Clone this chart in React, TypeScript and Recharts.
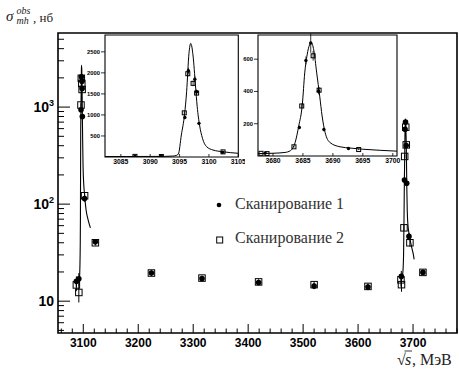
import React from "react";
import { ComposedChart, Scatter, Line, XAxis, YAxis, ErrorBar, ReferenceArea, Legend } from "recharts";

// scan 1 — filled circles (energy, MeV / cross section, nb / error)
const scan1E = [3087.4, 3091.9, 3095.9, 3096.5, 3097.6, 3097.9, 3098.3, 3102.3, 3122, 3224, 3316, 3419, 3520, 3618, 3678.7, 3684.4, 3685.5, 3686.3, 3687.6, 3688.5, 3692.6, 3718];
const scan1S = [16, 17, 940, 2050, 1850, 1550, 800, 114, 41, 19.5, 17.1, 15.6, 14.3, 14.0, 18, 177, 592, 700, 402, 164, 46.5, 19.8];
const scan1Err = [2, 2.5, 40, 70, 65, 55, 35, 8, 2.5, 1.2, 1, 1, 1, 1, 2.5, 10, 25, 60, 20, 10, 4, 1.2];

// scan 2 — open squares
const scan2E = [3087.4, 3091.9, 3095.8, 3096.4, 3097.3, 3097.9, 3102.4, 3122, 3224, 3316, 3419, 3520, 3618, 3678.0, 3679.0, 3683.5, 3684.8, 3686.7, 3687.7, 3694.3, 3718];
const scan2S = [14.7, 12.3, 1050, 1980, 1750, 1520, 122, 40, 19.5, 17.3, 15.8, 14.8, 14.2, 16.6, 14.8, 57, 310, 621, 408, 40, 19.8];
const scan2Err = [2, 2.6, 45, 70, 65, 55, 8, 2.5, 1.2, 1, 1, 1, 1, 2.5, 2.3, 4, 15, 30, 20, 3.5, 1.2];

// fit curves
const jpsiFitE = [3082.3, 3086, 3090, 3092.5, 3093.8, 3094.5, 3094.8, 3095.3, 3095.85, 3096.2, 3096.6, 3096.9, 3097.3, 3097.7, 3098.0, 3098.4, 3098.9, 3099.6, 3100.7, 3102.3, 3105, 3109, 3113];
const jpsiFitS = [11, 12, 13, 15, 22, 40, 71, 523, 1015, 1552, 2465, 2700, 2400, 1711, 1196, 760, 444, 245, 166, 126, 88, 68, 57];
const psiFitE = [3677.5, 3680, 3682, 3682.9, 3683.7, 3684.3, 3684.9, 3685.3, 3685.7, 3686.1, 3686.4, 3686.8, 3687.3, 3687.8, 3688.2, 3688.7, 3689.5, 3691.2, 3693, 3695, 3698, 3700.7, 3702];
const psiFitS = [15, 17, 22, 33, 84, 186, 320, 515, 627, 689, 703, 658, 515, 371, 248, 146, 84, 57, 49, 42, 35, 30, 27];

const mainXMajor = [3100, 3200, 3300, 3400, 3500, 3600, 3700];
const mainYMajor = [10, 100, 1000];
const mainYPow = ["", "2", "3"];
const inset1XTicks = [3085, 3090, 3095, 3100, 3105];
const inset1YTicks = [500, 1000, 1500, 2000, 2500];
const inset2XTicks = [3680, 3685, 3690, 3695, 3700];
const inset2YTicks = [200, 400, 600];
const legendLabels = ["Сканирование 1", "Сканирование 2"];

const MAIN_X: [number, number] = [3054, 3780];
const MAIN_Y: [number, number] = [4.7, 5800];
const IN1_X: [number, number] = [3082.3, 3105];
const IN1_Y: [number, number] = [0, 2900];
const IN2_X: [number, number] = [3677.5, 3700.7];
const IN2_Y: [number, number] = [0, 750];

const pts = (e: number[], s: number[], err?: number[]) => e.map((x, i) => ({ e: x, s: s[i], err: err ? err[i] : 0 }));
const scan1 = pts(scan1E, scan1S, scan1Err);
const scan2 = pts(scan2E, scan2S, scan2Err);
const jpsiFit = pts(jpsiFitE, jpsiFitS);
const psiFit = pts(psiFitE, psiFitS);
const inRange = (d: { e: number }[], r: [number, number]) => d.filter((p) => p.e >= r[0] && p.e <= r[1]);

const mainXTicks: number[] = [];
for (let v = 3060; v <= 3780; v += 20) mainXTicks.push(v);
const mainYTicks = [1, 10, 100, 1000]
  .flatMap((d) => [2, 3, 4, 5, 6, 7, 8, 9, 10].map((k) => k * d))
  .filter((v, i, a) => v >= MAIN_Y[0] && v <= MAIN_Y[1] && a.indexOf(v) === i);

const SANS = "'Liberation Sans', Arial, sans-serif";
const SERIF = "'Liberation Serif', 'Times New Roman', serif";

const dot = (r: number) => (p: any) => <circle cx={p.cx} cy={p.cy} r={r} fill="#000" />;
const box = (s: number) => (p: any) => (
  <rect x={p.cx - s / 2} y={p.cy - s / 2} width={s} height={s} fill="none" stroke="#000" strokeWidth={1} />
);

function MainXTick({ x, y, payload }: any) {
  const major = mainXMajor.includes(payload.value);
  return (
    <g>
      <line x1={x} y1={y} x2={x} y2={y - (major ? 9 : 4.5)} stroke="#000" strokeWidth={1} />
      {major && (
        <text x={x} y={y + 14} textAnchor="middle" fontSize={12} fontWeight="bold" fontFamily={SANS} fill="#000">
          {payload.value}
        </text>
      )}
    </g>
  );
}

function MainYTick({ x, y, payload }: any) {
  const idx = mainYMajor.indexOf(payload.value);
  const major = idx >= 0;
  return (
    <g>
      <line x1={x} y1={y} x2={x + (major ? 12 : 6)} y2={y} stroke="#000" strokeWidth={1} />
      {major && (
        <text x={x - 4} y={y + 5} textAnchor="end" fontSize={14} fontWeight="bold" fontFamily={SANS} fill="#000">
          10
          {mainYPow[idx] && (
            <tspan dy={-6} fontSize={9}>
              {mainYPow[idx]}
            </tspan>
          )}
        </text>
      )}
    </g>
  );
}

function InsetXTick({ x, y, payload }: any) {
  return (
    <g>
      <line x1={x} y1={y} x2={x} y2={y - 3} stroke="#000" strokeWidth={0.8} />
      <text x={x} y={y + 6.5} textAnchor="middle" fontSize={6.8} fontWeight="bold" fontFamily={SANS} fill="#000">
        {payload.value}
      </text>
    </g>
  );
}

function InsetYTick({ x, y, payload }: any) {
  return (
    <g>
      <line x1={x - 4} y1={y} x2={x} y2={y} stroke="#000" strokeWidth={0.8} />
      <text x={x - 5} y={y + 2} textAnchor="end" fontSize={5.8} fontWeight="bold" fontFamily={SANS} fill="#000">
        {payload.value}
      </text>
    </g>
  );
}

function LegendBox() {
  return (
    <svg width={160} height={60} style={{ display: "block" }}>
      <circle cx={11} cy={15} r={2.3} fill="#000" />
      <text x={27} y={19.3} fontSize={16} fontFamily={SERIF} fill="#333">
        {legendLabels[0]}
      </text>
      <rect x={8.7} y={47} width={6} height={6} fill="none" stroke="#000" strokeWidth={1} />
      <text x={27} y={53} fontSize={16} fontFamily={SERIF} fill="#333">
        {legendLabels[1]}
      </text>
    </svg>
  );
}

type InsetProps = {
  left: number; top: number; width: number; height: number;
  xDomain: [number, number]; yDomain: [number, number];
  xTicks: number[]; yTicks: number[]; fit: { e: number; s: number }[];
  marginRight: number; xAxisHeight: number;
};

function Inset({ left, top, width, height, xDomain, yDomain, xTicks, yTicks, fit, marginRight, xAxisHeight }: InsetProps) {
  return (
    <div style={{ position: "absolute", left, top, width, height }}>
      <ComposedChart width={width} height={height} margin={{ top: 5, right: marginRight, bottom: 0, left: 0 }}>
        <XAxis type="number" dataKey="e" domain={xDomain} allowDataOverflow ticks={xTicks} interval={0}
          tick={(p: any) => <InsetXTick {...p} />} tickLine={false} axisLine={false} tickSize={0} tickMargin={0} height={xAxisHeight} />
        <YAxis type="number" dataKey="s" domain={yDomain} allowDataOverflow ticks={yTicks} interval={0}
          tick={(p: any) => <InsetYTick {...p} />} tickLine={false} axisLine={false} tickSize={0} tickMargin={0} width={20} />
        <ReferenceArea x1={xDomain[0]} x2={xDomain[1]} y1={yDomain[0]} y2={yDomain[1]} fill="#fff" fillOpacity={0} stroke="#000" strokeWidth={1.1} />
        <Line data={inRange(fit, xDomain)} dataKey="s" type="monotone" dot={false} stroke="#000" strokeWidth={1} isAnimationActive={false} />
        <Scatter data={inRange(scan2, xDomain)} dataKey="s" shape={box(4)} isAnimationActive={false}>
          <ErrorBar dataKey="err" direction="y" width={0} stroke="#000" strokeWidth={0.8} />
        </Scatter>
        <Scatter data={inRange(scan1, xDomain)} dataKey="s" shape={dot(1.7)} isAnimationActive={false}>
          <ErrorBar dataKey="err" direction="y" width={0} stroke="#000" strokeWidth={0.8} />
        </Scatter>
      </ComposedChart>
    </div>
  );
}

export default function App() {
  return (
    <div style={{ position: "absolute", left: 0, top: 0, width: 459, height: 370, background: "#fff", overflow: "hidden" }}>
      <div style={{ position: "absolute", left: 0, top: 0 }}>
        <ComposedChart width={459} height={370} margin={{ top: 33, right: 2, bottom: 0, left: 0 }}>
          <XAxis type="number" dataKey="e" domain={MAIN_X} allowDataOverflow ticks={mainXTicks} interval={0}
            tick={(p: any) => <MainXTick {...p} />} tickLine={false} axisLine={false} tickSize={0} tickMargin={0} height={37} />
          <YAxis type="number" dataKey="s" scale="log" domain={MAIN_Y} allowDataOverflow ticks={mainYTicks} interval={0}
            tick={(p: any) => <MainYTick {...p} />} tickLine={false} axisLine={false} tickSize={0} tickMargin={0} width={58} />
          <ReferenceArea x1={MAIN_X[0]} x2={MAIN_X[1]} y1={MAIN_Y[0]} y2={MAIN_Y[1]} fill="#fff" fillOpacity={0} stroke="#000" strokeWidth={1.6} />
          <Line data={jpsiFit.filter((p) => p.e >= 3092.5)} dataKey="s" type="monotone" dot={false} stroke="#000" strokeWidth={1.1} isAnimationActive={false} />
          <Line data={psiFit.filter((p) => p.e >= 3678)} dataKey="s" type="monotone" dot={false} stroke="#000" strokeWidth={1.1} isAnimationActive={false} />
          <Scatter data={scan2} dataKey="s" shape={box(6.5)} isAnimationActive={false}>
            <ErrorBar dataKey="err" direction="y" width={0} stroke="#000" strokeWidth={1} />
          </Scatter>
          <Scatter data={scan1} dataKey="s" shape={dot(2.8)} isAnimationActive={false}>
            <ErrorBar dataKey="err" direction="y" width={0} stroke="#000" strokeWidth={1} />
          </Scatter>
          <Legend layout="vertical" align="center" verticalAlign="middle" content={() => <LegendBox />}
            wrapperStyle={{ left: 208, top: 190, width: 160, height: 60 }} />
        </ComposedChart>
      </div>

      <Inset left={85} top={30} width={160} height={137} xDomain={IN1_X} yDomain={IN1_Y}
        xTicks={inset1XTicks} yTicks={inset1YTicks} fit={jpsiFit} marginRight={6.7} xAxisHeight={10} />
      <Inset left={238} top={30} width={165} height={137} xDomain={IN2_X} yDomain={IN2_Y}
        xTicks={inset2XTicks} yTicks={inset2YTicks} fit={psiFit} marginRight={6} xAxisHeight={11} />

      <svg width={459} height={370} style={{ position: "absolute", left: 0, top: 0, pointerEvents: "none" }}>
        <text x={6} y={21} fontSize={15} fontStyle="italic" fontFamily={SERIF} fill="#222">σ</text>
        <text x={16.5} y={13.5} fontSize={10} fontStyle="italic" fontFamily={SERIF} fill="#222">obs</text>
        <text x={16.5} y={23.5} fontSize={10} fontStyle="italic" fontFamily={SERIF} fill="#222">mh</text>
        <text x={33} y={21.5} fontSize={13} fontFamily={SERIF} fill="#222">, нб</text>
        <text x={397} y={365} fontSize={16} fontFamily={SERIF} fill="#222">√</text>
        <line x1={404.5} y1={351} x2={412} y2={351} stroke="#222" strokeWidth={0.9} />
        <text x={405} y={365} fontSize={16} fontStyle="italic" fontFamily={SERIF} fill="#222">s</text>
        <text x={412} y={365} fontSize={16} fontFamily={SERIF} fill="#222">, МэВ</text>
      </svg>
    </div>
  );
}
